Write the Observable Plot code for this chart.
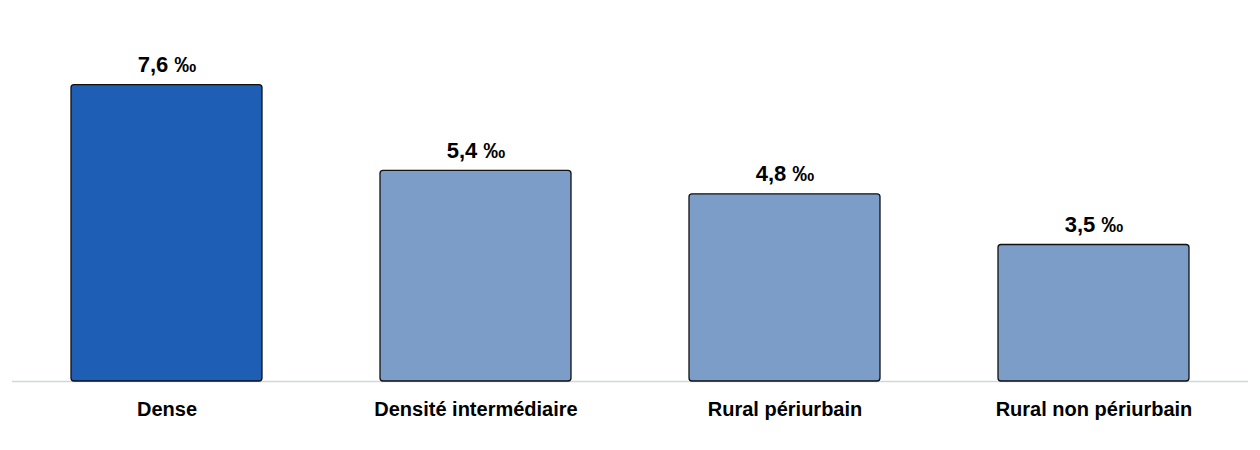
<!DOCTYPE html>
<html>
<head>
<meta charset="utf-8">
<script src="https://cdn.jsdelivr.net/npm/d3@7"></script>
<script src="https://cdn.jsdelivr.net/npm/@observablehq/plot@0.6"></script>
<style>
  html, body { margin: 0; padding: 0; background: #fff; }
  #chart { width: 1260px; height: 450px; }
</style>
</head>
<body>
<div id="chart"></div>
<script>
const categories = ["Dense", "Densité intermédiaire", "Rural périurbain", "Rural non périurbain"];
const values = [7.6, 5.4, 4.8, 3.5];
const highlight = ["Dense"];

const data = categories.map((c, i) => ({ category: c, value: values[i] }));
const fmt = v => v.toFixed(1).replace(".", ",") + " ‰";

const chart = Plot.plot({
  width: 1260,
  height: 450,
  marginLeft: 12,
  marginRight: 12,
  marginTop: 69,
  marginBottom: 69,
  style: { fontFamily: "'Liberation Sans', Arial, sans-serif", color: "#000", background: "#fff" },
  x: { domain: categories, paddingInner: 0.382, paddingOuter: 0.191, label: null },
  y: { domain: [0, 8], axis: null },
  marks: [
    Plot.ruleY([0], { stroke: "#d3d6d8", strokeWidth: 1.5 }),
    Plot.barY(data, {
      x: "category",
      y: "value",
      fill: d => highlight.includes(d.category) ? "#1f5eb5" : "#7b9dc8",
      stroke: "#111",
      strokeWidth: 1.3,
      rx: 3
    }),
    Plot.text(data, {
      x: "category",
      y: "value",
      text: d => fmt(d.value),
      dy: -20,
      fontSize: 22,
      fontWeight: "bold",
      fill: "#000"
    }),
    Plot.axisX({
      tickSize: 0,
      tickPadding: 20,
      fontSize: 20,
      fontWeight: "bold",
      fill: "#000"
    })
  ]
});
document.getElementById("chart").append(chart);
</script>
</body>
</html>
